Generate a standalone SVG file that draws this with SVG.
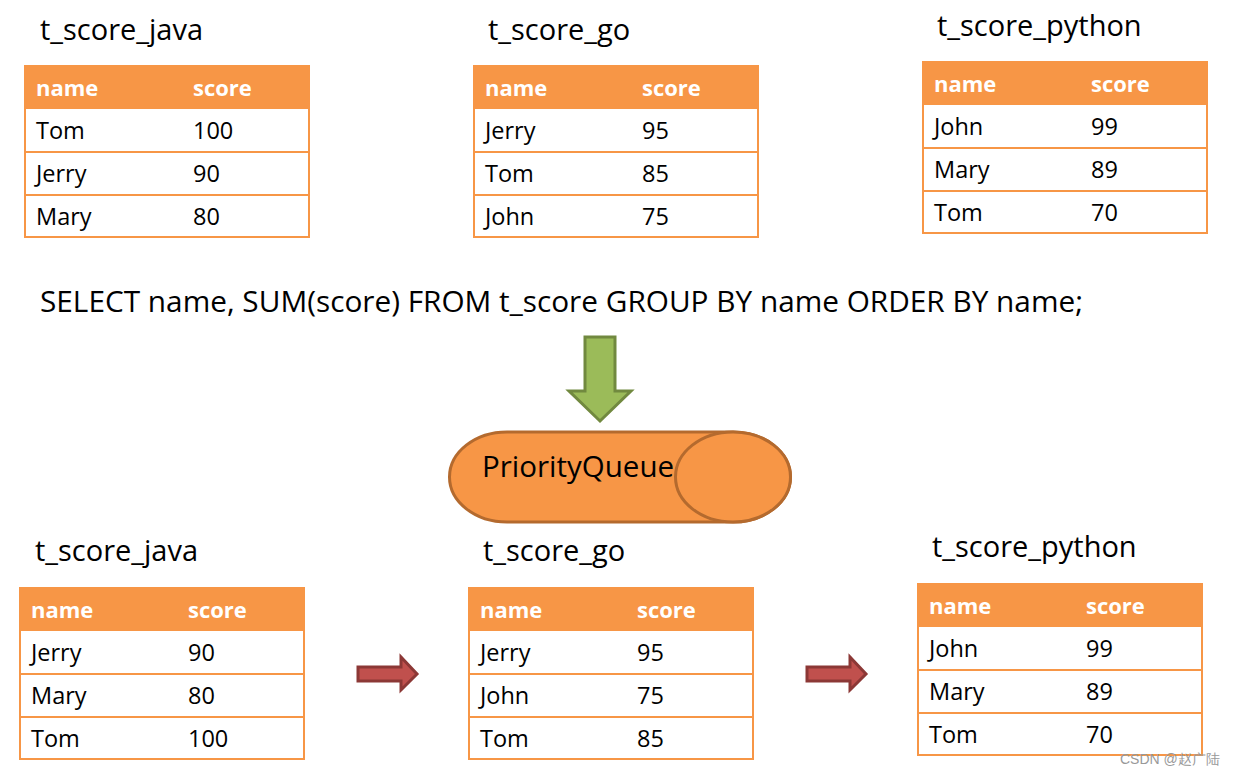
<svg xmlns="http://www.w3.org/2000/svg" width="1235" height="776" viewBox="0 0 1235 776">
<style>
text{font-family:"Open Sans","Noto Sans","Liberation Sans",sans-serif;fill:#000}
.title{font-size:29px}
.sql{font-size:29.5px}
.hd{fill:#F79646}
.hdt{font-size:22px;font-weight:bold;fill:#fff}
.cell{font-size:23.5px}
.box{fill:#fff;stroke:#F79646;stroke-width:2}
.line{stroke:#F79646;stroke-width:2}
.red{fill:#C0504D;stroke:#8C3836;stroke-width:3}
.wm{font-family:"Liberation Sans",sans-serif;font-size:14px;fill:#999}
</style>
<defs>
<g id="tbl">
<rect class="box" x="0" y="0" width="284" height="171"/>
<rect class="hd" x="0" y="0" width="284" height="43"/>
<line class="line" x1="0" y1="86" x2="284" y2="86"/>
<line class="line" x1="0" y1="129" x2="284" y2="129"/>
<text class="hdt" x="11" y="30">name</text>
<text class="hdt" x="168" y="30">score</text>
</g>
</defs>

<g id="top-java">
<text class="title" x="40" y="40">t_score_java</text>
<g transform="translate(25,66)">
<use href="#tbl"/>
<text class="cell" x="11" y="73">Tom</text><text class="cell" x="168" y="73">100</text>
<text class="cell" x="11" y="116">Jerry</text><text class="cell" x="168" y="116">90</text>
<text class="cell" x="11" y="159">Mary</text><text class="cell" x="168" y="159">80</text>
</g>
</g>

<g id="top-go">
<text class="title" x="488" y="40">t_score_go</text>
<g transform="translate(474,66)">
<use href="#tbl"/>
<text class="cell" x="11" y="73">Jerry</text><text class="cell" x="168" y="73">95</text>
<text class="cell" x="11" y="116">Tom</text><text class="cell" x="168" y="116">85</text>
<text class="cell" x="11" y="159">John</text><text class="cell" x="168" y="159">75</text>
</g>
</g>

<g id="top-python">
<text class="title" x="937" y="36">t_score_python</text>
<g transform="translate(923,62)">
<use href="#tbl"/>
<text class="cell" x="11" y="73">John</text><text class="cell" x="168" y="73">99</text>
<text class="cell" x="11" y="116">Mary</text><text class="cell" x="168" y="116">89</text>
<text class="cell" x="11" y="159">Tom</text><text class="cell" x="168" y="159">70</text>
</g>
</g>

<g id="sql">
<text class="sql" x="40" y="312" textLength="1043" lengthAdjust="spacingAndGlyphs">SELECT name, SUM(score) FROM t_score GROUP BY name ORDER BY name;</text>
</g>

<g id="pq">
<path d="M507 432 L733 432 A57.5 45 0 0 1 733 522 L507 522 A57.5 45 0 0 1 507 432 Z" fill="#F79646" stroke="#B46A2E" stroke-width="3"/>
<ellipse cx="733" cy="477" rx="57.5" ry="45" fill="#F79646" stroke="#B46A2E" stroke-width="3"/>
<text class="title" x="482" y="477" style="font-size:29.5px">PriorityQueue</text>
</g>

<g id="bottom-java">
<text class="title" x="35" y="561">t_score_java</text>
<g transform="translate(20,588)">
<use href="#tbl"/>
<text class="cell" x="11" y="73">Jerry</text><text class="cell" x="168" y="73">90</text>
<text class="cell" x="11" y="116">Mary</text><text class="cell" x="168" y="116">80</text>
<text class="cell" x="11" y="159">Tom</text><text class="cell" x="168" y="159">100</text>
</g>
</g>

<g id="bottom-go">
<text class="title" x="483" y="561">t_score_go</text>
<g transform="translate(469,588)">
<use href="#tbl"/>
<text class="cell" x="11" y="73">Jerry</text><text class="cell" x="168" y="73">95</text>
<text class="cell" x="11" y="116">John</text><text class="cell" x="168" y="116">75</text>
<text class="cell" x="11" y="159">Tom</text><text class="cell" x="168" y="159">85</text>
</g>
</g>

<g id="bottom-python">
<text class="title" x="932" y="557">t_score_python</text>
<g transform="translate(918,584)">
<use href="#tbl"/>
<text class="cell" x="11" y="73">John</text><text class="cell" x="168" y="73">99</text>
<text class="cell" x="11" y="116">Mary</text><text class="cell" x="168" y="116">89</text>
<text class="cell" x="11" y="159">Tom</text><text class="cell" x="168" y="159">70</text>
</g>
</g>

<g id="connectors">
<path d="M585 337 L615 337 L615 391 L631 391 L600 421 L569 391 L585 391 Z" fill="#9BBB59" stroke="#71893F" stroke-width="3"/>
<path class="red" d="M358 667 L401 667 L401 657 L417 674 L401 690 L401 681 L358 681 Z"/>
<path class="red" d="M807 667 L850 667 L850 657 L866 674 L850 690 L850 681 L807 681 Z"/>
</g>

<text class="wm" x="1120" y="764">CSDN @赵广陆</text>
</svg>
